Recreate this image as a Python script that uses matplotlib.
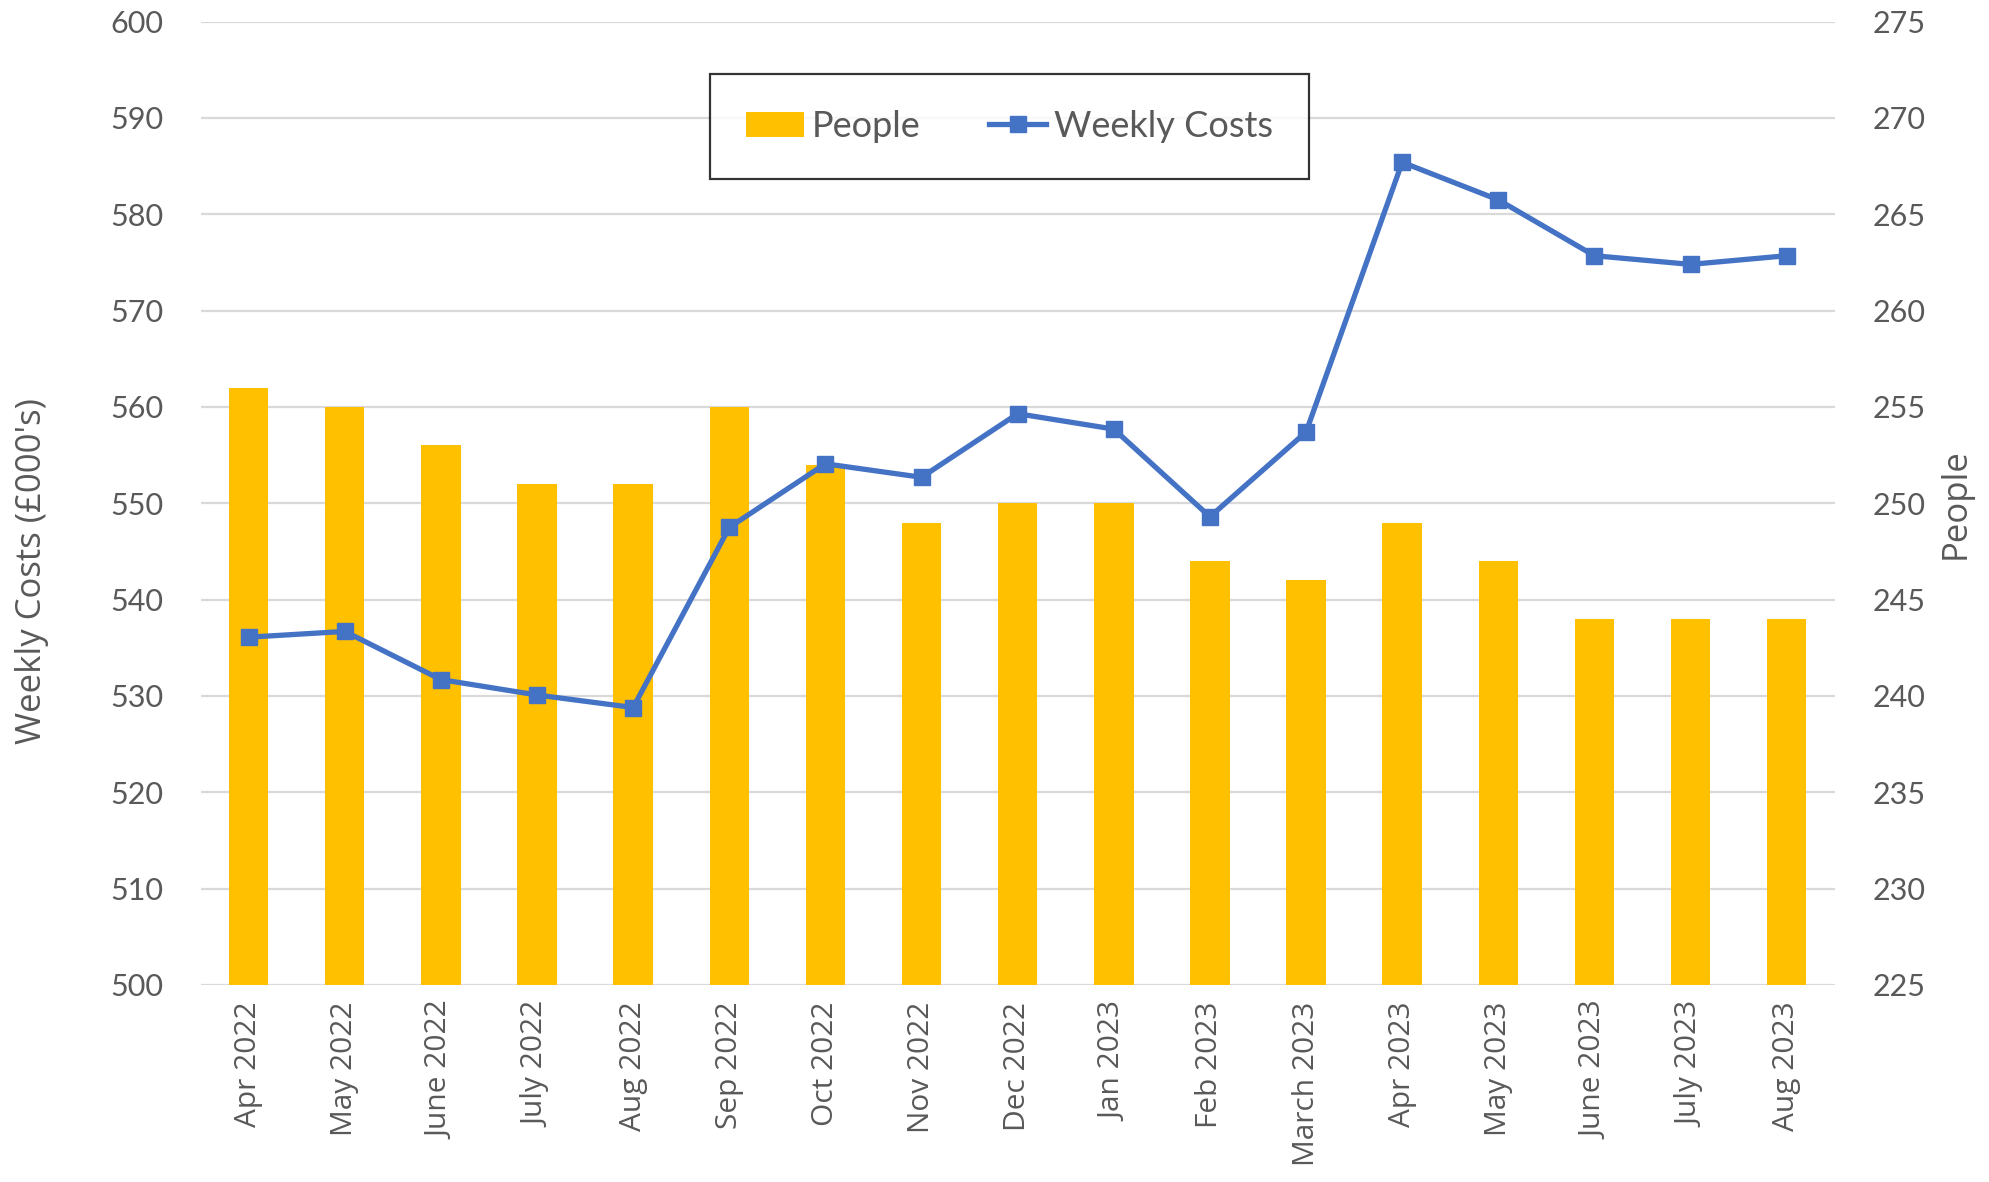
import numpy as np
import matplotlib.pyplot as plt

months = ["Apr 2022", "May 2022", "June 2022", "July 2022", "Aug 2022", "Sep 2022",
          "Oct 2022", "Nov 2022", "Dec 2022", "Jan 2023", "Feb 2023", "March 2023",
          "Apr 2023", "May 2023", "June 2023", "July 2023", "Aug 2023"]
people = [256, 255, 253, 251, 251, 255, 252, 249, 250, 250, 247, 246, 249, 247, 244, 244, 244]
weekly_costs = [536.1, 536.7, 531.7, 530.1, 528.8, 547.5, 554.1, 552.7, 559.3, 557.7,
                548.6, 557.4, 585.4, 581.5, 575.7, 574.8, 575.7]

text_col = "#595959"
plt.rcParams['font.family'] = ['Lato', 'DejaVu Sans']

fig = plt.figure(figsize=(19.9, 11.82), dpi=100)
# people axis (right, bars) sits underneath the costs axis
ax2 = fig.add_axes([0.1008, 0.1667, 0.8212, 0.815])
ax = fig.add_axes(ax2.get_position(), sharex=ax2)
x = np.arange(len(months))

ax2.bar(x, people, width=0.41, color="#FFC000", label="People", zorder=2)
ax2.set_ylim(225, 275)
ax2.set_yticks(np.arange(225, 276, 5))
ax2.yaxis.tick_right()
ax2.grid(axis='y', color="#D9D9D9", linewidth=1.6, zorder=0)
ax2.set_axisbelow(True)
ax2.set_ylabel("People", fontsize=25, color=text_col, family="Open Sans",
               rotation=90, va='center', ha='center')
ax2.yaxis.set_label_coords(1.074, 0.5)

ax.plot(x, weekly_costs, color="#4472C4", linewidth=3.8, marker='s', markersize=11,
        label="Weekly Costs")
ax.set_ylim(500, 600)
ax.set_yticks(np.arange(500, 601, 10))
ax.patch.set_visible(False)
ax.set_ylabel("Weekly Costs (£000's)", fontsize=25, color=text_col, family="Open Sans",
              va='center', ha='center')
ax.yaxis.set_label_coords(-0.103, 0.43)
ax.set_xlim(-0.5, len(months) - 0.5)

for a in (ax, ax2):
    for s in a.spines.values():
        s.set_visible(False)
    a.tick_params(length=0, labelsize=22, labelcolor=text_col)
    a.tick_params(axis='y', pad=27)

ax.set_xticks(x)
ax.set_xticklabels(months, rotation=90, fontsize=21.5, family="Open Sans", color=text_col)
ax.tick_params(axis='x', pad=12)
ax2.tick_params(axis='x', labelbottom=False)

h1, l1 = ax2.get_legend_handles_labels()
h2, l2 = ax.get_legend_handles_labels()
leg = ax.legend(h1 + h2, l1 + l2, loc='center', bbox_to_anchor=(0.495, 0.891), ncol=2,
                fontsize=26, frameon=True, fancybox=False, edgecolor='black',
                borderpad=1.0, borderaxespad=0, columnspacing=1.9, handlelength=1.6,
                handletextpad=0.2, labelcolor=text_col)
leg.get_frame().set_linewidth(1.6)

fig.savefig("out.png", dpi=100)
